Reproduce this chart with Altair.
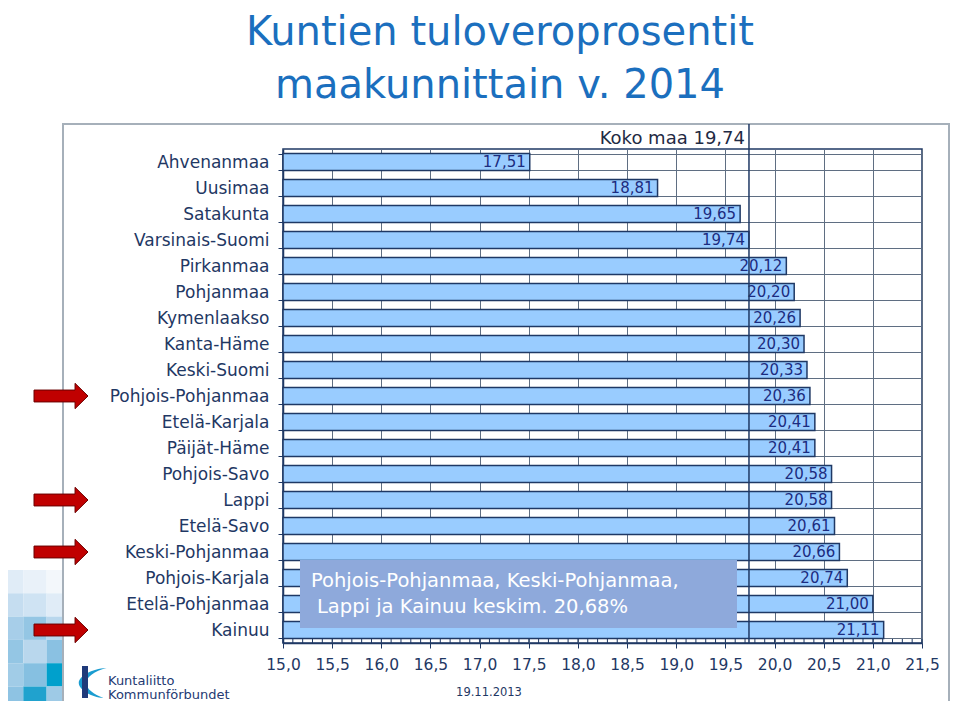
import altair as alt
import pandas as pd

# ---- data ----
regions = ["Ahvenanmaa", "Uusimaa", "Satakunta", "Varsinais-Suomi", "Pirkanmaa",
           "Pohjanmaa", "Kymenlaakso", "Kanta-Häme", "Keski-Suomi", "Pohjois-Pohjanmaa",
           "Etelä-Karjala", "Päijät-Häme", "Pohjois-Savo", "Lappi", "Etelä-Savo",
           "Keski-Pohjanmaa", "Pohjois-Karjala", "Etelä-Pohjanmaa", "Kainuu"]
rates = [17.51, 18.81, 19.65, 19.74, 20.12, 20.20, 20.26, 20.30, 20.33, 20.36,
         20.41, 20.41, 20.58, 20.58, 20.61, 20.66, 20.74, 21.00, 21.11]
koko_maa = 19.74
flagged = ["Pohjois-Pohjanmaa", "Lappi", "Keski-Pohjanmaa", "Kainuu"]
x_ticks = [15.0, 15.5, 16.0, 16.5, 17.0, 17.5, 18.0, 18.5, 19.0, 19.5, 20.0, 20.5, 21.0, 21.5]
minor_ticks = [round(15.0 + 0.1 * i, 1) for i in range(66)]
title_lines = ["Kuntien tuloveroprosentit", "maakunnittain v. 2014"]
note_lines = ["Pohjois-Pohjanmaa, Keski-Pohjanmaa,", "Lappi ja Kainuu keskim. 20,68%"]
mosaic_tone = [[0.12, 0.06, 0.0],
                [0.28, 0.22, 0.12],
                [0.45, 0.55, 0.35],
                [0.55, 0.35, 0.60],
                [0.48, 0.62, 1.00],
                [0.58, 0.97, 0.50]]

W, H = 639, 494
NAVY = "#1F3864"
FONT = "DejaVu Sans"

df = pd.DataFrame({"region": regions, "rate": rates})
one = pd.DataFrame({"k": [0]})
arrows_df = pd.DataFrame({"region": flagged})
minor_df = pd.DataFrame({"t": minor_ticks})
mosaic_df = pd.DataFrame([{"col": c, "row": r, "tone": mosaic_tone[r][c]}
                          for r in range(len(mosaic_tone)) for c in range(3)])

xscale = alt.Scale(domain=[15, 21.5], nice=False, zero=False)
xaxis = alt.Axis(values=x_ticks, title=None, grid=True, tickSize=5, labelPadding=9,
                 labelFontSize=15.5, labelOverlap=False, labelBound=False, labelFlush=False,
                 labelExpr="replace(format(datum.value, '.1f'), '.', ',')")
yscale = alt.Scale(domain=regions, paddingInner=0.35, paddingOuter=0.175)
yaxis = alt.Axis(title=None, tickBand="extent", grid=True, tickSize=5, labelPadding=9,
                 labelFontSize=17, labelOverlap=False)
Y = alt.Y("region:N", sort=regions, scale=yscale, axis=yaxis)

ARROW = "M-1,-0.22L0.52,-0.22L0.52,-0.47L1,0L0.52,0.47L0.52,0.22L-1,0.22Z"
SWOOSH = ("M0.9,-1 C-0.1,-0.95 -0.95,-0.45 -0.95,0 C-0.95,0.45 -0.1,0.95 0.7,1 "
          "C0.05,0.75 -0.45,0.4 -0.45,0 C-0.45,-0.4 0.1,-0.8 0.9,-1Z")

mosaic = alt.Chart(mosaic_df).mark_rect(strokeWidth=0).transform_calculate(
    px="-283 + datum.col * 23.3",
    px2="min(-283 + (datum.col + 1) * 23.3, -221)",
    py="421 + datum.row * 23.3",
    py2="421 + (datum.row + 1) * 23.3",
).encode(
    x=alt.X("px:Q", scale=None), x2="px2:Q",
    y=alt.Y("py:Q", scale=None), y2="py2:Q",
    color=alt.Color("tone:Q", scale=alt.Scale(domain=[0, 1], range=["#f3f7fb", "#00a0cc"]),
                    legend=None),
)

frame = alt.Chart(one).mark_rect(fillOpacity=0, stroke="#A6B0BA", strokeWidth=2).encode(
    x=alt.value(-220), x2=alt.value(666), y=alt.value(-25), y2=alt.value(640))

title1 = alt.Chart(one).mark_text(text=title_lines[0], font=FONT, fontSize=40,
                                  align="center", baseline="alphabetic",
                                  color="#1B6FBE").encode(x=alt.value(217), y=alt.value(-104))
title2 = alt.Chart(one).mark_text(text=title_lines[1], font=FONT, fontSize=40,
                                  align="center", baseline="alphabetic",
                                  color="#1B6FBE").encode(x=alt.value(217), y=alt.value(-51))

arrows = alt.Chart(arrows_df).mark_point(shape=ARROW, size=2916, filled=True, fill="#C00000",
                                         stroke="#6b0000", strokeWidth=1, opacity=1).encode(
    x=alt.value(-222), y=Y)

logo_bar = alt.Chart(one).mark_rect(fill="#1F3A7A").encode(
    x=alt.value(-201), x2=alt.value(-195), y=alt.value(517), y2=alt.value(549))
logo_swoosh = alt.Chart(one).mark_point(shape=SWOOSH, size=900, filled=True, fill="#1A9CD0",
                                        opacity=1, strokeWidth=0).encode(
    x=alt.value(-190), y=alt.value(534))
logo_text = alt.Chart(one).mark_text(text=["Kuntaliitto", "Kommunförbundet"], font=FONT,
                                     fontSize=13, lineHeight=14, align="left",
                                     baseline="alphabetic", color="#243A73").encode(
    x=alt.value(-175), y=alt.value(536))

base = alt.Chart(df)
bars = base.mark_bar(fill="#99CCFF", stroke=NAVY, strokeWidth=1.5).transform_calculate(
    start="15").encode(
    x=alt.X("start:Q", scale=xscale, axis=xaxis), x2="rate:Q", y=Y)
labels = base.mark_text(align="right", baseline="middle", dx=-4, font=FONT, fontSize=15,
                        color="#1c2c80").transform_calculate(
    lbl="replace(format(datum.rate, '.2f'), '.', ',')").encode(
    x=alt.X("rate:Q", scale=xscale, axis=xaxis), y=Y, text="lbl:N")

koko_line = alt.Chart(one).mark_rule(color=NAVY, strokeWidth=1.5).encode(
    x=alt.X(datum=koko_maa, scale=xscale, axis=xaxis), y=alt.value(-25), y2=alt.value(H))
koko_text = alt.Chart(one).mark_text(
    text="Koko maa " + f"{koko_maa:.2f}".replace(".", ","), align="right",
    baseline="alphabetic", dx=-4, font=FONT, fontSize=18, color="#1F2A44").encode(
    x=alt.X(datum=koko_maa, scale=xscale, axis=xaxis), y=alt.value(-5))

note_box = alt.Chart(one).mark_rect(fill="#8EA9DB").encode(
    x=alt.value(17), x2=alt.value(454), y=alt.value(411), y2=alt.value(479))
note_l1 = alt.Chart(one).mark_text(text=note_lines[0], align="left", baseline="alphabetic",
                                   font=FONT, fontSize=19.5, color="white").encode(
    x=alt.value(28), y=alt.value(438))
note_l2 = alt.Chart(one).mark_text(text=note_lines[1], align="left", baseline="alphabetic",
                                   font=FONT, fontSize=19.5, color="white").encode(
    x=alt.value(34), y=alt.value(464))

minor = alt.Chart(minor_df).mark_rule(color=NAVY, strokeWidth=1).encode(
    x=alt.X("t:Q", scale=xscale, axis=xaxis), y=alt.value(H - 4), y2=alt.value(H))

date = alt.Chart(one).mark_text(text="19.11.2013", align="center", baseline="alphabetic",
                                font=FONT, fontSize=11.5, color=NAVY).encode(
    x=alt.value(206), y=alt.value(547))

chart = alt.layer(
    mosaic, frame, title1, title2, arrows, logo_swoosh, logo_bar, logo_text,
    bars, labels, koko_line, koko_text, note_box, note_l1, note_l2, minor, date
).properties(
    width=W, height=H,
    autosize=alt.AutoSizeParams(type="none"),
    padding={"left": 275, "top": 141, "right": 28, "bottom": 58},
    background="white",
).configure_view(
    stroke=NAVY, strokeWidth=1.5
).configure_axis(
    labelFont=FONT, labelColor=NAVY, tickColor=NAVY, domainColor=NAVY,
    gridColor="#5f6e82", gridWidth=1, domainWidth=1.5,
)

chart.save("out.html", embed_options={"renderer": "svg", "actions": False})
